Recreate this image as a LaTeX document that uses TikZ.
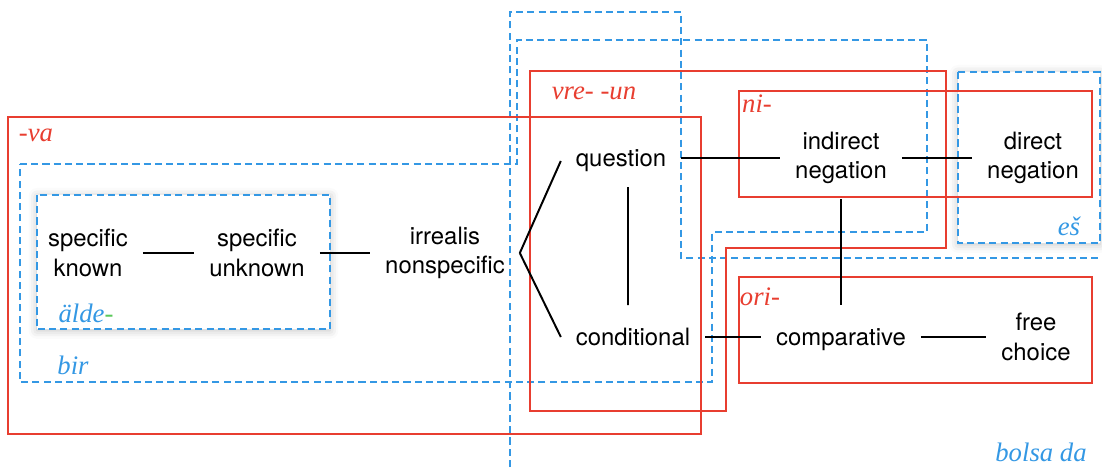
\documentclass[tikz,border=0pt]{standalone}
\usepackage{fontspec}
\setsansfont{TeX Gyre Heros}
\newfontfamily\glossfont{Liberation Serif}
\usetikzlibrary{shadows.blur}
\definecolor{mapred}{RGB}{232,62,48}
\definecolor{mapblue}{RGB}{52,152,228}
\definecolor{mapgreen}{RGB}{90,200,90}
\tikzset{
  meaning/.style={font=\sffamily\fontsize{17}{21}\selectfont,align=center,inner sep=10pt},
  redarea/.style={draw=mapred,line width=1.4pt},
  bluearea/.style={draw=mapblue,line width=1.4pt,dash pattern=on 5pt off 3pt},
  redgloss/.style={text=mapred,font=\glossfont\itshape\fontsize{19}{22}\selectfont,inner sep=0pt},
  bluegloss/.style={text=mapblue,font=\glossfont\itshape\fontsize{19}{22}\selectfont,inner sep=0pt},
  softshadow/.style={fill=white,blur shadow={shadow xshift=0pt,shadow yshift=-1pt,shadow blur radius=6pt,shadow opacity=25}}
}
\begin{document}
\begin{tikzpicture}[x=0.25mm,y=-0.25mm,line width=1.4pt]
\useasboundingbox (0,0) rectangle (1102,467);
% Blue (dashed) areas
\draw[bluearea,softshadow] (37,195) rectangle (330,329);
\draw[bluearea,softshadow] (958,72) rectangle (1100,243);
\draw[bluearea] (20,164) -- (517,164) -- (517,40) -- (927,40) -- (927,232) -- (712,232) -- (712,382) -- (20,382) -- cycle;
\draw[bluearea] (510,467) -- (510,12) -- (681,12) -- (681,258) -- (1102,258);
% Red areas
\draw[redarea] (8,117) rectangle (701,434);
\draw[redarea] (530,71) -- (946,71) -- (946,248) -- (726,248) -- (726,411) -- (530,411) -- cycle;
\draw[redarea] (739,91) rectangle (1092,197);
\draw[redarea] (739,277) rectangle (1092,383);
% Area labels
\node[redgloss] (va) at (36,135) {-va};
\node[redgloss] (vreun) at (594,93) {vre- -un};
\node[redgloss] (ni) at (757,104) {ni-};
\node[redgloss] (ori) at (760,297) {ori-};
\node[bluegloss] (alde) at (86,313) {älde\textcolor{mapgreen}{-}};
\node[bluegloss] (bir) at (73,365) {bir};
\node[bluegloss] (es) at (1069,226) {eš};
\node[bluegloss] (bolsa) at (1041,452) {bolsa da};
% Meanings
\node[meaning] (sk) at (88,253) {specific\\known};
\node[meaning] (su) at (257,253) {specific\\unknown};
\node[meaning] (irr) at (445,253) {irrealis\\nonspecific};
\node[meaning] (q) at (621,161) {question};
\node[meaning] (cond) at (633,337) {conditional};
\node[meaning] (ind) at (841,158) {indirect\\negation};
\node[meaning] (dir) at (1033,158) {direct\\negation};
\node[meaning] (comp) at (841,340) {comparative};
\node[meaning] (fc) at (1036,337) {free\\choice};
% Connections
\draw (sk) -- (su);
\draw (su) -- (irr);
\draw (irr.east) -- (q.west);
\draw (irr.east) -- (cond.west);
\draw[shorten >=2mm] ([xshift=1.75mm]q.south) -- ([xshift=-1.25mm]cond.north);
\draw (q.east |- ind.west) -- (ind.west);
\draw (ind) -- (dir);
\draw[shorten >=2.3mm] (ind) -- (comp);
\draw (cond.east) -- (comp.west |- cond.east);
\draw (comp.east |- fc.west) -- (fc.west);
\end{tikzpicture}
\end{document}
